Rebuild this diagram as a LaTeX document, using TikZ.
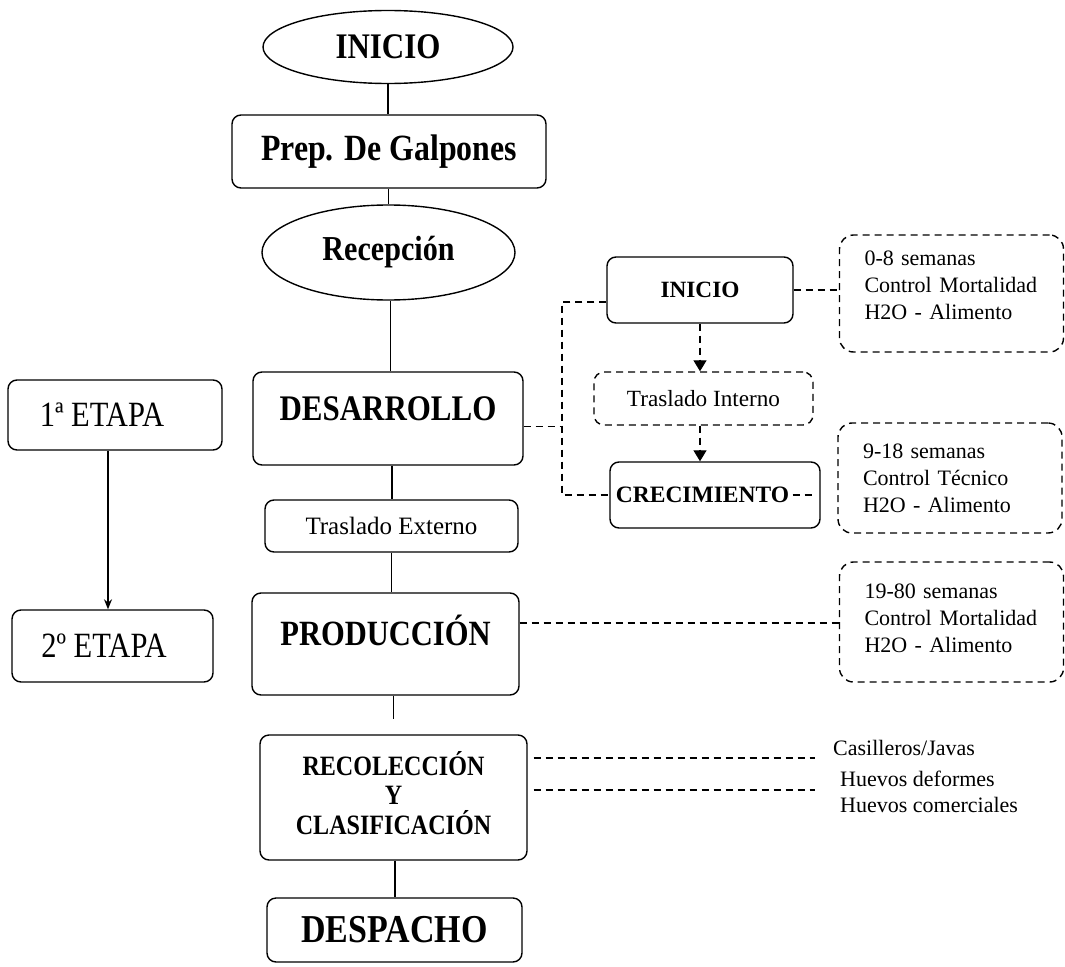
\documentclass[tikz,border=0pt]{standalone}
\usepackage{fontspec}
\setmainfont{Liberation Serif}
\newfontfamily\condfont{Liberation Serif}[FakeStretch=0.86]
\usetikzlibrary{shapes.geometric,arrows.meta,calc}
\newcommand\myfs[1]{\fontsize{#1}{#1}\selectfont}
\newcommand\myfsb[2]{\fontsize{#1}{#2}\selectfont}
\tikzset{
  box/.style={draw, line width=1.4pt, rounded corners=9pt, inner sep=0pt},
  ell/.style={draw, ellipse, line width=1.4pt, inner sep=0pt},
  dbox/.style={draw, line width=1.4pt, dash pattern=on 7pt off 5pt, rounded corners=14pt, inner sep=0pt},
  link/.style={line width=1.3pt},
  dlink/.style={line width=1.3pt, dash pattern=on 7pt off 5pt},
  bigb/.style={font=\condfont\bfseries\myfs{36}},
  info/.style={dbox, inner xsep=25pt, text width=174pt, align=left, font=\myfsb{22}{27},
    execute at begin node={\hyphenpenalty=10000\exhyphenpenalty=10000}},
  lbl/.style={inner sep=0pt, font=\myfs{22}},
  tip/.style={-{Triangle[length=11pt,width=13pt]}},
}
\begin{document}
\begin{tikzpicture}[x=1pt,y=-1pt]
\useasboundingbox (0,0) rectangle (1065,966);
% main column
\node[ell, minimum width=250pt, minimum height=73pt, bigb] (inicio) at (388,47) {INICIO};
\node[box, minimum width=314pt, minimum height=73pt, font=\condfont\bfseries\myfs{37}] (prep) at (389,151.5) {Prep. De Galpones};
\node[ell, minimum width=253pt, minimum height=95pt, font=\condfont\bfseries\myfs{35}] (recep) at (388.5,252.5) {Recepción};
\node[box, minimum width=270pt, minimum height=93pt, bigb, text height=24pt, text depth=20pt] (desa) at (388,418.5) {DESARROLLO};
\node[box, minimum width=253pt, minimum height=52pt, font=\myfs{25}] (trext) at (391.5,526) {Traslado Externo};
\node[box, minimum width=267pt, minimum height=102pt, font=\condfont\bfseries\myfs{35.5}, text height=24pt, text depth=22pt] (prod) at (385.5,644) {PRODUCCIÓN};
\node[box, minimum width=267pt, minimum height=125pt, align=center, font=\condfont\bfseries\myfsb{28}{30}] (recol) at (393.5,797.5) {RECOLECCIÓN\\[-0.5pt]Y\\[-0.5pt]CLASIFICACIÓN\\[-20pt]\mbox{}};
\node[box, minimum width=255pt, minimum height=64pt, font=\condfont\bfseries\myfs{39.5}] (desp) at (394.5,930) {DESPACHO};

\draw[link] (inicio.south) -- (inicio.south |- prep.north);
\draw[link] (recep.north |- prep.south) -- (recep.north);
\draw[link] ([xshift=2pt]recep.south) -- ([xshift=2pt]recep.south |- desa.north);
\draw[link] ([xshift=4pt]desa.south) -- ([xshift=4pt]desa.south |- trext.north);
\draw[link] (trext.south) -- (trext.south |- prod.north);
\draw[link, shorten >=15pt] (recol.north |- prod.south) -- (recol.north);
\draw[link] ([xshift=1.5pt]recol.south) -- ([xshift=1.5pt]recol.south |- desp.north);

% left column
\node[box, minimum width=214pt, minimum height=70pt, font=\condfont\myfs{35.5}] (et1) at (115,415) {1ª ETAPA\hspace*{26pt}};
\node[box, minimum width=201pt, minimum height=72pt, font=\condfont\myfs{35.5}] (et2) at (112.5,646) {2º ETAPA\hspace*{17pt}};
\draw[link, -{Stealth[length=10pt,width=8pt]}] ([xshift=-7pt]et1.south) -- ([xshift=-7pt]et1.south |- et2.north);

% right sub-process
\node[box, minimum width=186pt, minimum height=66pt, font=\bfseries\myfs{23.3}] (ini2) at (700,290) {INICIO};
\node[dbox, rounded corners=10pt, minimum width=219pt, minimum height=53pt, font=\myfs{23.2}] (trint) at (703.5,398.5) {Traslado Interno};
\node[box, minimum width=210pt, minimum height=66pt, font=\bfseries\myfs{23.5}] (crec) at (715,495) {CRECIMIENTO\hspace*{25pt}};
\draw[dlink, tip] (ini2.south) -- (ini2.south |- trint.north);
\draw[dlink, tip] (ini2.south |- trint.south) -- (ini2.south |- crec.north);
\coordinate (bx) at (562,0);
\draw[dlink] ([yshift=-12pt]ini2.west) -| (bx |- crec.west) -- (crec.west);
\draw[dlink] ([yshift=-8pt]desa.east) -- ([yshift=-8pt]desa.east -| bx);
\draw[dlink] ([xshift=-28pt]crec.east) -- ([xshift=-5pt]crec.east);

% info boxes
\node[info, minimum height=117pt] (r1) at (951.5,293.5) {0-8 semanas\\Control\hspace{0.35em}Mortalidad\\H2O - Alimento\\[-11pt]\mbox{}};
\node[info, minimum height=110pt] (r2) at (950,478) {9-18 semanas\\Control Técnico\\H2O - Alimento};
\node[info, minimum height=120pt] (r3) at (951.5,622) {19-80 semanas\\Control\hspace{0.35em}Mortalidad\\H2O - Alimento\\[-19pt]\mbox{}};
\draw[dlink] (ini2.east) -- (ini2.east -| r1.west);
\draw[dlink] ([yshift=21pt]prod.east) -- ([yshift=21pt]prod.east -| r3.west);

% bottom labels
\coordinate (e1) at (815,758);
\coordinate (e2) at (815,790);
\draw[dlink, shorten <=6pt] (recol.east |- e1) -- (e1);
\draw[dlink, shorten <=6pt] (recol.east |- e2) -- (e2);
\node[lbl, anchor=west] (cas) at (833,748) {Casilleros/Javas};
\node[lbl, anchor=west] (hdef) at (840,779) {Huevos deformes};
\node[lbl, anchor=west] (hcom) at (840,805) {Huevos comerciales};
\end{tikzpicture}
\end{document}
